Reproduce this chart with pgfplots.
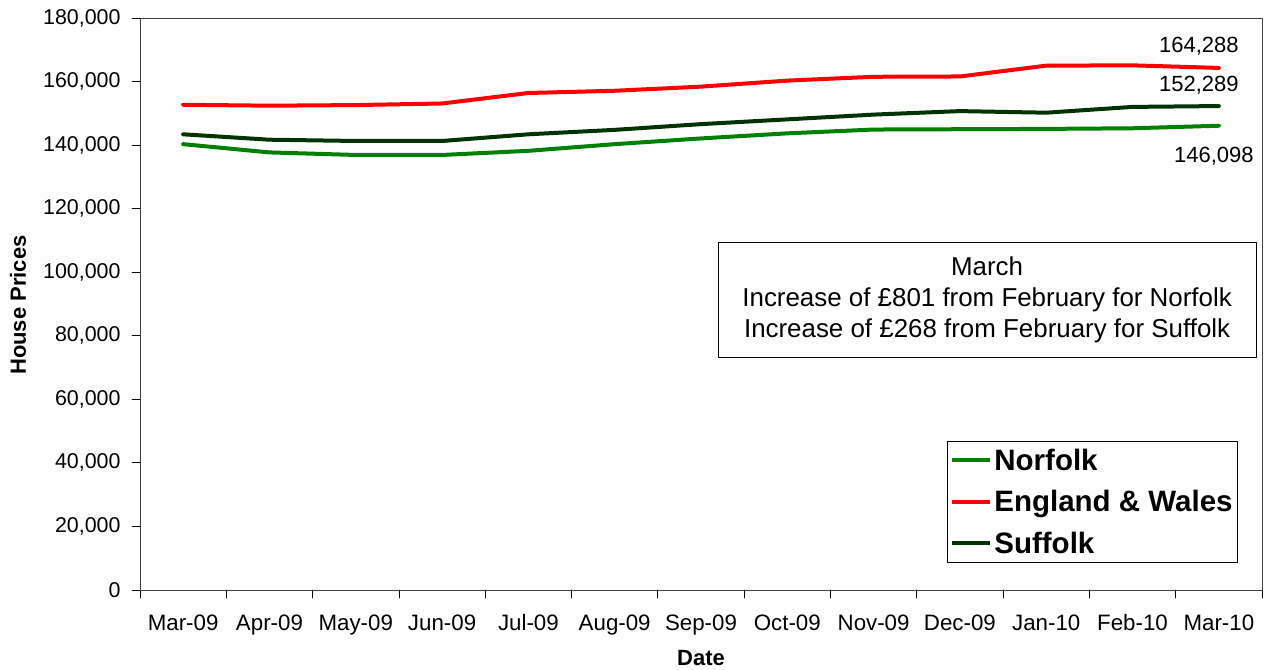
\documentclass[border=0pt]{standalone}
\usepackage{fontspec}
\setmainfont{Liberation Sans}
\usepackage{pgfplots}
\pgfplotsset{compat=1.18}
\definecolor{norf}{RGB}{0,128,0}
\definecolor{engw}{RGB}{255,0,0}
\definecolor{suff}{RGB}{0,51,0}
\begin{document}
\begin{tikzpicture}
\useasboundingbox (-140pt,-79pt) rectangle (1125pt,590pt);
\begin{axis}[
  scale only axis,
  width=1122pt, height=572pt,
  at={(0pt,0pt)}, anchor=south west,
  xmin=-0.5, xmax=12.5,
  ymin=0, ymax=180000,
  xtick={-0.5,0.5,1.5,2.5,3.5,4.5,5.5,6.5,7.5,8.5,9.5,10.5,11.5,12.5},
  x tick label as interval,
  xticklabels={Mar-09,Apr-09,May-09,Jun-09,Jul-09,Aug-09,Sep-09,Oct-09,Nov-09,Dec-09,Jan-10,Feb-10,Mar-10},
  ytick={0,20000,40000,60000,80000,100000,120000,140000,160000,180000},
  yticklabels={0,{20,000},{40,000},{60,000},{80,000},{100,000},{120,000},{140,000},{160,000},{180,000}},
  scaled y ticks=false,
  xtick pos=bottom, ytick pos=left,
  tick align=outside,
  major tick length=8pt,
  tick style={black, line width=0.8pt},
  axis line style={line width=0.9pt, draw=black!75},
  xticklabel style={font=\fontsize{22.3}{26}\selectfont, yshift=-13pt},
  yticklabel style={font=\fontsize{21.4}{24}\selectfont, xshift=-8pt},
  xlabel={Date},
  ylabel={House Prices},
  xlabel style={font=\bfseries\fontsize{22}{26}\selectfont, at={(rel axis cs:0.5,0)}, anchor=center, yshift=-68pt},
  ylabel style={font=\bfseries\fontsize{22}{26}\selectfont, at={(rel axis cs:0,0.498)}, anchor=center, yshift=122pt},
  legend style={at={(rel axis cs:0.9786,0.0472)}, anchor=south east, draw=black, line width=0.8pt,
     font=\bfseries\fontsize{29.5}{32}\selectfont, row sep=14.5pt, inner xsep=3pt, inner ysep=6pt},
  legend cell align=left,
  legend image code/.code={\draw[#1, line width=4pt] (0pt,0pt) -- (38pt,0pt);},
  line join=round, line cap=round,
]
\addplot[norf, line width=4pt] coordinates {
(0,140300) (1,137700) (2,136900) (3,136900) (4,138200) (5,140300) (6,142100) (7,143700) (8,144900) (9,145000) (10,145100) (11,145297) (12,146098)};
\addlegendentry{Norfolk}
\addplot[engw, line width=4pt] coordinates {
(0,152700) (1,152400) (2,152600) (3,153100) (4,156400) (5,157100) (6,158400) (7,160300) (8,161500) (9,161600) (10,165000) (11,165100) (12,164288)};
\addlegendentry{England \& Wales}
\addplot[suff, line width=4pt] coordinates {
(0,143400) (1,141700) (2,141300) (3,141300) (4,143400) (5,144800) (6,146600) (7,148100) (8,149600) (9,150700) (10,150200) (11,152021) (12,152289)};
\addlegendentry{Suffolk}
\node[font=\fontsize{22}{24}\selectfont, xshift=-20pt, yshift=22pt] at (axis cs:12,164288) {164,288};
\node[font=\fontsize{22}{24}\selectfont, xshift=-20pt, yshift=21pt] at (axis cs:12,152289) {152,289};
\node[font=\fontsize{22}{24}\selectfont, xshift=-5pt, yshift=-30pt] at (axis cs:12,146098) {146,098};
\node[draw=black, line width=0.8pt, fill=white, align=center, minimum width=538pt, minimum height=115pt,
  font=\fontsize{25.9}{31}\selectfont] at (rel axis cs:0.755,0.507)
  {March\\Increase of £801 from February for Norfolk\\Increase of £268 from February for Suffolk};
\end{axis}
\end{tikzpicture}
\end{document}
